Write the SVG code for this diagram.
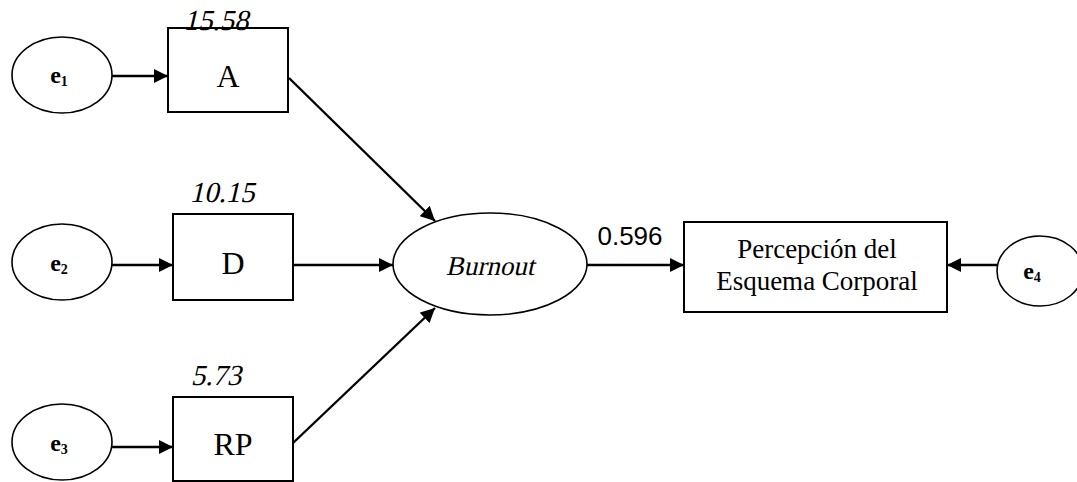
<svg xmlns="http://www.w3.org/2000/svg" width="1077" height="482" viewBox="0 0 1077 482">
<style>
.box{fill:#fff;stroke:#000;stroke-width:2}
.ell{fill:#fff;stroke:#000;stroke-width:1.6}
.lbl{font-family:"Liberation Serif",serif;font-size:32px;fill:#000;text-anchor:middle}
.err{font-family:"Liberation Serif",serif;font-size:24px;font-weight:bold;fill:#000;text-anchor:middle}
.num{font-family:"Liberation Serif",serif;font-size:29px;fill:#000;text-anchor:middle}
.coef{font-family:"Liberation Sans",sans-serif;font-size:26px;fill:#000;text-anchor:middle}
.txt{font-family:"Liberation Serif",serif;font-size:27px;fill:#000;text-anchor:middle}
.con{stroke:#000;stroke-width:2.4;fill:none;marker-end:url(#ah)}
</style>
<defs>
<marker id="ah" viewBox="0 0 10 10" refX="10" refY="5" markerWidth="6" markerHeight="6" markerUnits="strokeWidth" orient="auto">
<path d="M0,0 L10,5 L0,10 z" fill="#000"/>
</marker>
</defs>
<rect width="1077" height="482" fill="#fff"/>
<g id="connectors">
<line class="con" x1="112" y1="76" x2="168" y2="76" stroke-width="3"/>
<line class="con" x1="112" y1="265" x2="173" y2="265"/>
<line class="con" x1="112" y1="447" x2="173" y2="447"/>
<line class="con" x1="289" y1="78" x2="435" y2="221"/>
<line class="con" x1="293" y1="265" x2="393" y2="265"/>
<line class="con" x1="293" y1="443" x2="435" y2="308"/>
<line class="con" x1="587" y1="265" x2="684" y2="265"/>
<line class="con" x1="997" y1="265" x2="947" y2="265"/>
</g>
<g id="e1"><ellipse class="ell" cx="62" cy="75" rx="50" ry="38"/><text class="err" x="59" y="83">e<tspan font-size="14" dy="3">1</tspan></text></g>
<g id="e2"><ellipse class="ell" cx="62" cy="262" rx="50" ry="38"/><text class="err" x="59" y="271">e<tspan font-size="14" dy="3">2</tspan></text></g>
<g id="e3"><ellipse class="ell" cx="62" cy="442" rx="50" ry="38"/><text class="err" x="59" y="451">e<tspan font-size="14" dy="3">3</tspan></text></g>
<g id="A"><rect class="box" x="168" y="28" width="120" height="84"/><text class="lbl" x="228" y="87">A</text><g transform="translate(216,30) skewX(-13)"><text class="num">15.58</text></g></g>
<g id="D"><rect class="box" x="173" y="214" width="120" height="86"/><text class="lbl" x="233" y="274">D</text><g transform="translate(222,202) skewX(-13)"><text class="num">10.15</text></g></g>
<g id="RP"><rect class="box" x="173" y="397" width="120" height="84"/><text class="lbl" x="233" y="455">RP</text><g transform="translate(216,385) skewX(-13)"><text class="num">5.73</text></g></g>
<g id="Burnout"><ellipse class="ell" cx="490" cy="264" rx="97" ry="51"/><g transform="translate(490,275) skewX(-13)"><text class="txt" font-size="26">Burnout</text></g><text class="coef" x="630" y="245">0.596</text></g>
<g id="PEC"><rect class="box" x="684" y="222" width="263" height="90"/><text class="txt" x="817" y="258">Percepción del</text><text class="txt" x="817" y="290">Esquema Corporal</text></g>
<g id="e4"><ellipse class="ell" cx="1040" cy="271" rx="43" ry="35"/><text class="err" x="1032" y="279">e<tspan font-size="14" dy="3">4</tspan></text></g>
</svg>
